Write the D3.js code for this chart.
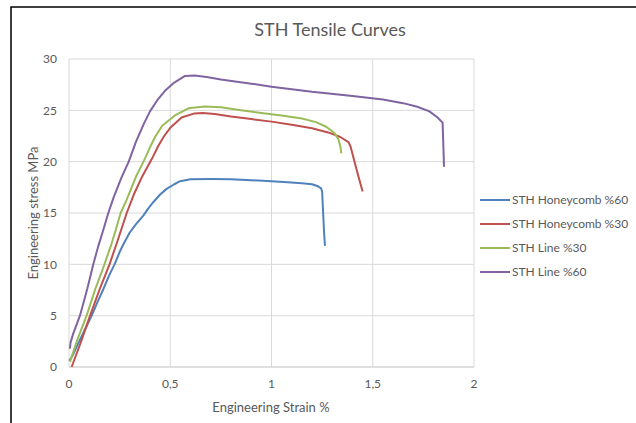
<!DOCTYPE html>
<html><head><meta charset="utf-8">
<script src="https://cdn.jsdelivr.net/npm/d3@7"></script>
<style>
html,body{margin:0;padding:0;background:#fff;}
text{font-family:Lato,"Open Sans",sans-serif;fill:#595959;}
</style></head>
<body><svg id="c" width="636" height="423"></svg>
<script>
const title = "STH Tensile Curves";
const xTitle = "Engineering Strain %";
const yTitle = "Engineering stress MPa";
const seriesNames = ["STH Honeycomb %60","STH Honeycomb %30","STH Line %30","STH Line %60"];
const seriesColors = ["#4F81BD","#C0504D","#9BBB59","#8064A2"];
const xTicks = [0,0.5,1,1.5,2];
const yTicks = [0,5,10,15,20,25,30];

const honeycomb60 = [[0.002,0.6],[0.02,1.2],[0.05,2.5],[0.08,3.7],[0.112,5],[0.14,6.3],[0.17,7.6],[0.2,9.0],[0.225,10],[0.25,11.2],[0.27,12.0],[0.3,13.1],[0.33,13.9],[0.367,14.75],[0.39,15.4],[0.416,16.05],[0.45,16.8],[0.482,17.35],[0.52,17.8],[0.548,18.1],[0.6,18.28],[0.7,18.3],[0.8,18.28],[0.9,18.2],[1.0,18.1],[1.08,18.0],[1.15,17.9],[1.2,17.8],[1.23,17.6],[1.245,17.4],[1.25,17.1],[1.255,15],[1.26,13],[1.264,11.8]];
const honeycomb30 = [[0.013,0],[0.03,0.9],[0.06,2.5],[0.104,5],[0.15,7.5],[0.2,10],[0.24,12.3],[0.285,15],[0.32,16.8],[0.36,18.5],[0.41,20.3],[0.44,21.5],[0.47,22.5],[0.5,23.3],[0.556,24.3],[0.62,24.7],[0.66,24.75],[0.72,24.65],[0.8,24.4],[0.9,24.15],[1.0,23.9],[1.1,23.6],[1.2,23.25],[1.28,22.85],[1.34,22.4],[1.38,21.9],[1.39,21.5],[1.41,20],[1.43,18.5],[1.45,17.1]];
const line30 = [[0.005,0.5],[0.04,2.6],[0.087,5],[0.13,7.6],[0.175,10],[0.21,12],[0.23,13.3],[0.255,15],[0.285,16.3],[0.33,18.5],[0.375,20.3],[0.4,21.4],[0.425,22.4],[0.46,23.5],[0.523,24.5],[0.59,25.2],[0.67,25.38],[0.75,25.3],[0.85,25.0],[0.95,24.75],[1.05,24.5],[1.15,24.2],[1.22,23.85],[1.27,23.4],[1.31,22.8],[1.33,22.2],[1.34,21.5],[1.345,20.8]];
const line60 = [[0.004,1.8],[0.008,2.4],[0.02,3.2],[0.054,5],[0.09,7.6],[0.12,10],[0.145,11.8],[0.17,13.4],[0.194,15],[0.22,16.5],[0.26,18.5],[0.295,20],[0.33,21.9],[0.37,23.7],[0.4,24.9],[0.44,26.1],[0.474,26.9],[0.52,27.7],[0.573,28.35],[0.62,28.4],[0.68,28.25],[0.75,28.0],[0.9,27.6],[1.0,27.3],[1.2,26.8],[1.4,26.4],[1.55,26.05],[1.65,25.7],[1.72,25.35],[1.78,24.9],[1.82,24.3],[1.845,23.8],[1.848,22],[1.852,19.5]];
const allSeries = [honeycomb60, honeycomb30, line30, line60];

const svg = d3.select("#c");
const L = 69, R = 474, T = 59, B = 367;
const x = d3.scaleLinear().domain([0,2]).range([L,R]);
const y = d3.scaleLinear().domain([0,30]).range([B,T]);

// frame
svg.append("rect").attr("x",11).attr("y",7).attr("width",640).attr("height",430)
  .attr("fill","none").attr("stroke","#000").attr("stroke-width",1.5);

// grid
svg.append("g").selectAll("line").data(yTicks).join("line")
  .attr("x1",L).attr("x2",R).attr("y1",d=>y(d)).attr("y2",d=>y(d))
  .attr("stroke",d=>d===0?"#bfbfbf":"#d9d9d9").attr("stroke-width",1);
svg.append("g").selectAll("line").data(xTicks).join("line")
  .attr("y1",T).attr("y2",B).attr("x1",d=>x(d)).attr("x2",d=>x(d))
  .attr("stroke","#d9d9d9").attr("stroke-width",1);

// tick labels
const fmt = d => String(d).replace(".",",");
svg.append("g").selectAll("text").data(yTicks).join("text")
  .attr("x",57).attr("y",d=>y(d)).attr("dy","0.35em").attr("text-anchor","end")
  .attr("font-size",12).text(fmt);
svg.append("g").selectAll("text").data(xTicks).join("text")
  .attr("x",d=>x(d)).attr("y",388).attr("text-anchor","middle")
  .attr("font-size",12).text(fmt);

// titles
svg.append("text").attr("x",330).attr("y",36).attr("text-anchor","middle")
  .attr("font-size",18).text(title);
svg.append("text").attr("x",271).attr("y",412).attr("text-anchor","middle")
  .attr("font-size",13).text(xTitle);
svg.append("text").attr("transform","translate(38,213) rotate(-90)").attr("text-anchor","middle")
  .attr("font-size",13).text(yTitle);

// lines
const line = d3.line().x(d=>x(d[0])).y(d=>y(d[1]));
svg.append("g").selectAll("path").data(allSeries).join("path")
  .attr("d",line).attr("fill","none")
  .attr("stroke",(d,i)=>seriesColors[i]).attr("stroke-width",2)
  .attr("stroke-linejoin","round");

// legend
const lg = svg.append("g").selectAll("g").data(seriesNames).join("g")
  .attr("transform",(d,i)=>`translate(480,${200+i*24})`);
lg.append("line").attr("x1",0).attr("x2",30).attr("stroke",(d,i)=>seriesColors[i]).attr("stroke-width",2);
lg.append("text").attr("x",32).attr("dy","0.35em").attr("font-size",12).text(d=>d);
</script></body></html>
